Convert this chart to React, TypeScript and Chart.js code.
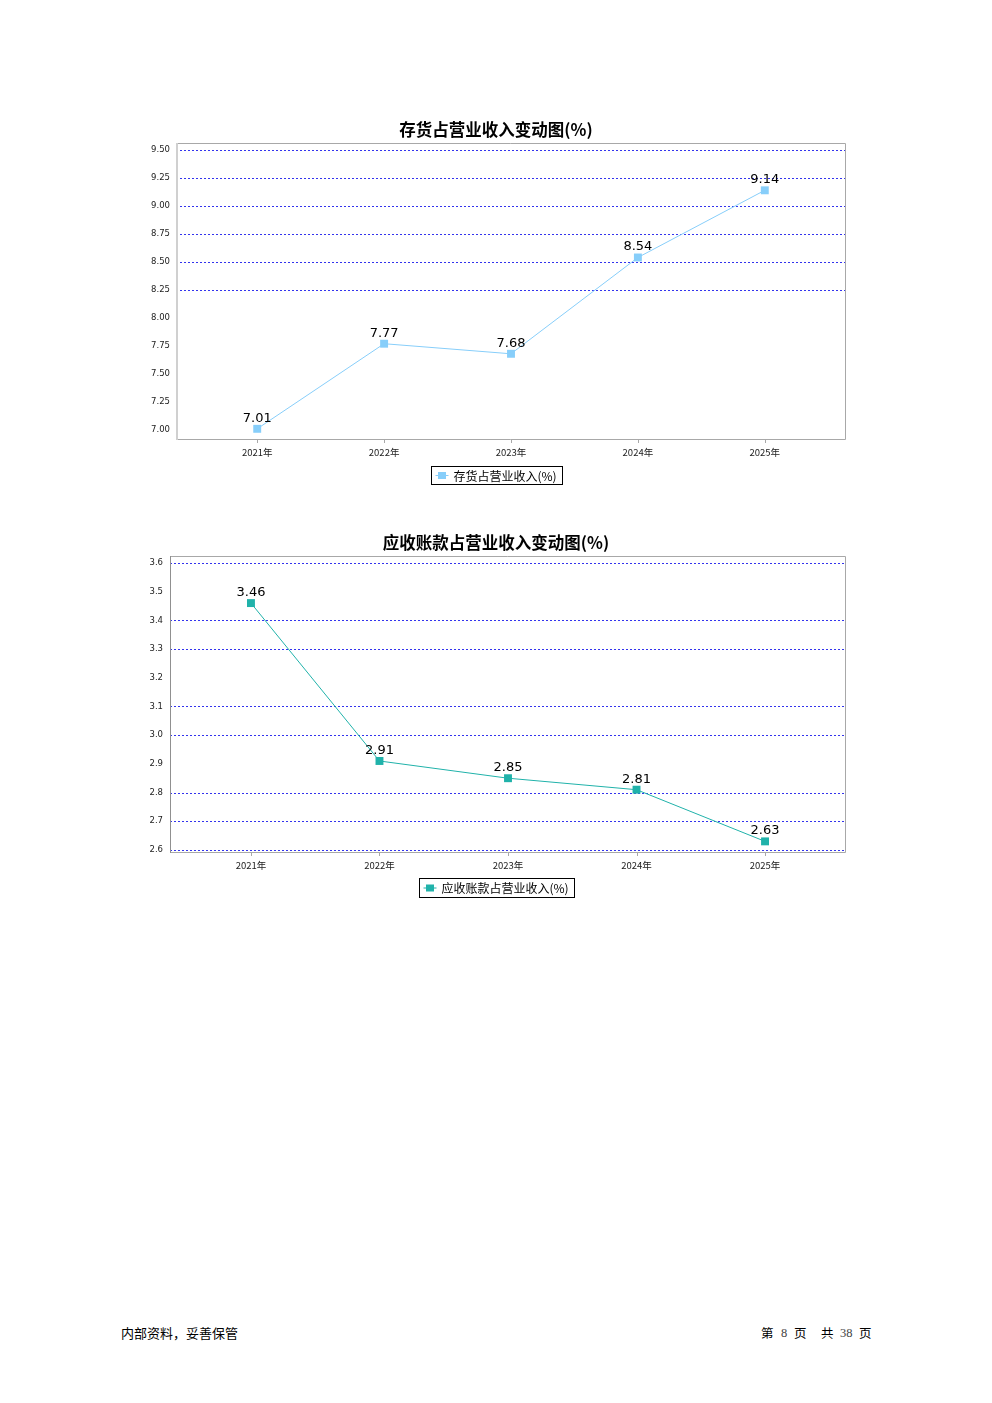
import React, { useEffect, useRef } from "react";
import { Chart, registerables } from "chart.js";
Chart.register(...registerables);

const categories = ["2021年", "2022年", "2023年", "2024年", "2025年"];
const inventoryValues = [7.01, 7.77, 7.68, 8.54, 9.14];
const receivableValues = [3.46, 2.91, 2.85, 2.81, 2.63];
const inventoryTicks = [7.0, 7.25, 7.5, 7.75, 8.0, 8.25, 8.5, 8.75, 9.0, 9.25, 9.5];
const inventoryGridTicks = [8.25, 8.5, 8.75, 9.0, 9.25, 9.5];
const receivableTicks = [2.6, 2.7, 2.8, 2.9, 3.0, 3.1, 3.2, 3.3, 3.4, 3.5, 3.6];
const receivableGridTicks = [2.6, 2.7, 2.8, 3.0, 3.1, 3.3, 3.4, 3.6];

type Cfg = {
  title: string;
  legend: string;
  values: number[];
  yTicks: number[];
  gridTicks: number[];
  yMin: number;
  yMax: number;
  xMin: number;
  xMax: number;
  decimals: number;
  color: string;
  left: number;
  top: number;
  width: number;
  height: number;
  plotLeft: number;
  plotTop: number;
  plotRight: number;
  plotBottom: number;
  titleY: number;
  legendTop: number;
  legendH: number;
  leftAxisColor: string;
  leftAxisWidth: number;
  yPad: number;
};

const CJK = "'Noto Sans CJK SC', 'DejaVu Sans', sans-serif";

function LineChart({ cfg }: { cfg: Cfg }) {
  const ref = useRef<HTMLCanvasElement | null>(null);
  useEffect(() => {
    if (!ref.current) return;
    const plugin = {
      id: "custom",
      beforeDatasetsDraw(chart: any) {
        const ctx = chart.ctx;
        const ca = chart.chartArea;
        const y = chart.scales.y;
        const l = Math.round(ca.left);
        const r = Math.round(ca.right);
        const t = Math.round(ca.top);
        const b = Math.round(ca.bottom);
        ctx.save();
        ctx.strokeStyle = "#3333ee";
        ctx.lineWidth = 1;
        ctx.setLineDash([2, 2]);
        cfg.gridTicks.forEach((v) => {
          const py = Math.round(y.getPixelForValue(v)) + 0.5;
          ctx.beginPath();
          ctx.moveTo(l, py);
          ctx.lineTo(r, py);
          ctx.stroke();
        });
        ctx.setLineDash([]);
        ctx.strokeStyle = "#a8a8a8";
        ctx.lineWidth = 1;
        ctx.beginPath();
        ctx.moveTo(l, t + 0.5);
        ctx.lineTo(r - 0.5, t + 0.5);
        ctx.lineTo(r - 0.5, b - 0.5);
        ctx.lineTo(l, b - 0.5);
        ctx.stroke();
        ctx.strokeStyle = cfg.leftAxisColor;
        ctx.lineWidth = cfg.leftAxisWidth;
        ctx.beginPath();
        ctx.moveTo(l + cfg.leftAxisWidth / 2, t);
        ctx.lineTo(l + cfg.leftAxisWidth / 2, b);
        ctx.stroke();
        const x = chart.scales.x;
        ctx.strokeStyle = "#a8a8a8";
        ctx.lineWidth = 1;
        cfg.values.forEach((_, i) => {
          const px = Math.round(x.getPixelForValue(i)) + 0.5;
          ctx.beginPath();
          ctx.moveTo(px, b);
          ctx.lineTo(px, b + 3);
          ctx.stroke();
        });
        ctx.restore();
      },
      afterDatasetsDraw(chart: any) {
        const ctx = chart.ctx;
        const meta = chart.getDatasetMeta(0);
        ctx.save();
        ctx.fillStyle = "#000";
        ctx.font = "13px 'DejaVu Sans', sans-serif";
        ctx.textAlign = "center";
        ctx.textBaseline = "bottom";
        meta.data.forEach((pt: any, i: number) => {
          ctx.fillText(cfg.values[i].toFixed(2), pt.x, pt.y - 4);
        });
        ctx.font = "bold 16.5px " + CJK;
        ctx.textBaseline = "middle";
        ctx.fillText(cfg.title, 496 - cfg.left, cfg.titleY + 1 - cfg.top);
        ctx.font = "12px " + CJK;
        const tw = ctx.measureText(cfg.legend).width;
        const bw = Math.round(tw + 28);
        const bx = Math.round(496 - cfg.left - bw / 2) + 0.5;
        const by = cfg.legendTop - cfg.top + 0.5;
        ctx.strokeStyle = "#000";
        ctx.lineWidth = 1;
        ctx.strokeRect(bx, by, bw, cfg.legendH);
        const my = by + cfg.legendH / 2;
        ctx.strokeStyle = cfg.color;
        ctx.beginPath();
        ctx.moveTo(bx + 4, my);
        ctx.lineTo(bx + 17, my);
        ctx.stroke();
        ctx.fillStyle = cfg.color;
        ctx.fillRect(bx + 6.5, my - 3.5, 8, 7);
        ctx.fillStyle = "#000";
        ctx.textAlign = "left";
        ctx.fillText(cfg.legend, bx + 22, my + 0.5);
        ctx.restore();
      },
    };
    const chart = new Chart(ref.current, {
      type: "line",
      data: {
        datasets: [
          {
            label: cfg.legend,
            data: cfg.values.map((v, i) => ({ x: i, y: v })),
            borderColor: cfg.color,
            backgroundColor: cfg.color,
            borderWidth: 1,
            pointStyle: "rect",
            pointRadius: 5.6,
            pointBorderWidth: 0,
            tension: 0,
          },
        ],
      },
      options: {
        animation: false,
        responsive: false,
        maintainAspectRatio: false,
        layout: {
          padding: {
            left: 0,
            right: cfg.width - cfg.plotRight,
            top: cfg.plotTop,
            bottom: 0,
          },
        },
        plugins: {
          legend: { display: false },
          title: { display: false },
          tooltip: { enabled: false },
        },
        scales: {
          x: {
            type: "linear",
            min: cfg.xMin,
            max: cfg.xMax,
            afterBuildTicks: (s: any) => {
              s.ticks = categories.map((_, i) => ({ value: i }));
            },
            afterFit: (s: any) => {
              s.height = cfg.height - cfg.plotBottom;
            },
            grid: { display: false, drawTicks: false },
            border: { display: false },
            ticks: {
              autoSkip: false,
              maxRotation: 0,
              padding: 7,
              color: "#222",
              font: { size: 9.5, family: CJK },
              callback: (v: any) => categories[Math.round(Number(v))] ?? "",
            },
          },
          y: {
            type: "linear",
            min: cfg.yMin,
            max: cfg.yMax,
            afterBuildTicks: (s: any) => {
              s.ticks = cfg.yTicks.map((v) => ({ value: v }));
            },
            afterFit: (s: any) => {
              s.width = cfg.plotLeft;
            },
            grid: { display: false, drawTicks: false },
            border: { display: false },
            ticks: {
              autoSkip: false,
              padding: cfg.yPad,
              color: "#222",
              font: { size: 8.5, family: "'DejaVu Sans', sans-serif" },
              callback: (v: any) => Number(v).toFixed(cfg.decimals),
            },
          },
        },
      },
      plugins: [plugin],
    });
    return () => chart.destroy();
  }, [cfg]);
  return (
    <canvas
      ref={ref}
      width={cfg.width}
      height={cfg.height}
      style={{ position: "absolute", left: cfg.left, top: cfg.top, width: cfg.width, height: cfg.height }}
    />
  );
}

const chart1: Cfg = {
  title: "存货占营业收入变动图(%)",
  legend: "存货占营业收入(%)",
  values: inventoryValues,
  yTicks: inventoryTicks,
  gridTicks: inventoryGridTicks,
  yMin: 6.91,
  yMax: 9.5625,
  xMin: -0.64,
  xMax: 4.64,
  decimals: 2,
  color: "#87cefa",
  left: 130,
  top: 110,
  width: 740,
  height: 390,
  plotLeft: 46,
  plotTop: 33,
  plotRight: 716,
  plotBottom: 330,
  titleY: 129,
  legendTop: 466,
  legendH: 18,
  leftAxisColor: "#d0d0d0",
  leftAxisWidth: 2,
  yPad: 6,
};

const chart2: Cfg = {
  title: "应收账款占营业收入变动图(%)",
  legend: "应收账款占营业收入(%)",
  values: receivableValues,
  yTicks: receivableTicks,
  gridTicks: receivableGridTicks,
  yMin: 2.5895,
  yMax: 3.624,
  xMin: -0.63,
  xMax: 4.63,
  decimals: 1,
  color: "#20b2aa",
  left: 130,
  top: 520,
  width: 740,
  height: 390,
  plotLeft: 40,
  plotTop: 36,
  plotRight: 716,
  plotBottom: 333,
  titleY: 542,
  legendTop: 878,
  legendH: 19,
  leftAxisColor: "#909090",
  leftAxisWidth: 1,
  yPad: 7,
};

const footerStyle: React.CSSProperties = {
  position: "absolute",
  top: 1325,
  fontSize: 12.5,
  lineHeight: "16px",
  fontFamily: CJK,
  color: "#000",
};
const numStyle: React.CSSProperties = { ...footerStyle, fontFamily: "'Liberation Serif', serif", color: "#444" };

export default function App() {
  return (
    <div style={{ position: "absolute", left: 0, top: 0, width: 992, height: 1403, background: "#fff" }}>
      <LineChart cfg={chart1} />
      <LineChart cfg={chart2} />
      <div style={{ ...footerStyle, left: 121, fontSize: 13 }}>内部资料，妥善保管</div>
      <div style={{ ...footerStyle, left: 761 }}>第</div>
      <div style={{ ...numStyle, left: 781 }}>8</div>
      <div style={{ ...footerStyle, left: 794 }}>页</div>
      <div style={{ ...footerStyle, left: 821 }}>共</div>
      <div style={{ ...numStyle, left: 840 }}>38</div>
      <div style={{ ...footerStyle, left: 859 }}>页</div>
    </div>
  );
}
